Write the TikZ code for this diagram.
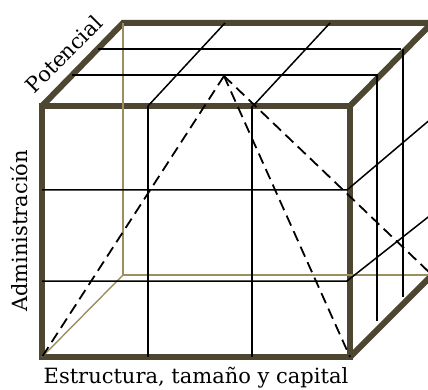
\documentclass[tikz,border=0pt]{standalone}
\usepackage{fontspec}
\setmainfont{DejaVu Serif}
\usepackage{tikz}

\definecolor{edgecol}{HTML}{4D4630}
\definecolor{hidcol}{HTML}{9B8F5F}

\begin{document}
\begin{tikzpicture}[x=1pt, y=-1pt,
    edge/.style={line width=6pt, edgecol, line join=miter},
    hidden/.style={line width=1.4pt, hidcol},
    grid/.style={line width=1.5pt, black},
    guide/.style={line width=1.8pt, black, dash pattern=on 11pt off 6pt},
    lbl/.style={inner sep=2pt, font=\fontsize{21}{23}\selectfont}]
  \useasboundingbox (0,0) rectangle (428,390);
  % corners: front face, back face, apex
  \coordinate (A) at (42,106);
  \coordinate (B) at (350,106);
  \coordinate (C) at (350,357);
  \coordinate (D) at (42,357);
  \coordinate (E) at (123,23);
  \coordinate (F) at (432,23);
  \coordinate (G) at (432,275);
  \coordinate (H) at (123,275);
  \coordinate (P) at (224,76);
  % box edges
  \draw[edge] (A) -- (B) -- (C) -- (D) -- cycle;
  \draw[edge] (A) -- (E) -- (F) -- (B);
  \draw[edge] (C) -- (G) -- (F);
  % hidden edges
  \draw[hidden] (E) -- (H) -- (G);
  \draw[hidden] (H) -- (D);
  % top face
  \draw[grid] (98,49) -- (401,49);
  \draw[grid] (72,75) -- (378,75);
  \draw[grid] (148,106) -- (225,23);
  \draw[grid] (253,106) -- (330,23);
  % front face
  \draw[grid] (148,106) -- (148,357);
  \draw[grid] (252,106) -- (252,357);
  \draw[grid] (42,190) -- (347,190) -- (432,118);
  \draw[grid] (42,281) -- (347,281) -- (432,214);
  % right face
  \draw[grid] (377,75) -- (377,321);
  \draw[grid] (403,49) -- (403,297);
  % pyramid
  \draw[guide] (P) -- (D);
  \draw[guide] (P) -- (C);
  \draw[guide] (P) -- (G);
  % axis labels
  \node[lbl, rotate=45] (pot) at (64,54) {Potencial};
  \node[lbl, rotate=90] (adm) at (19,231) {Administración};
  \node[lbl, anchor=base] (est) at (196,383) {Estructura, tamaño y capital};
\end{tikzpicture}
\end{document}
